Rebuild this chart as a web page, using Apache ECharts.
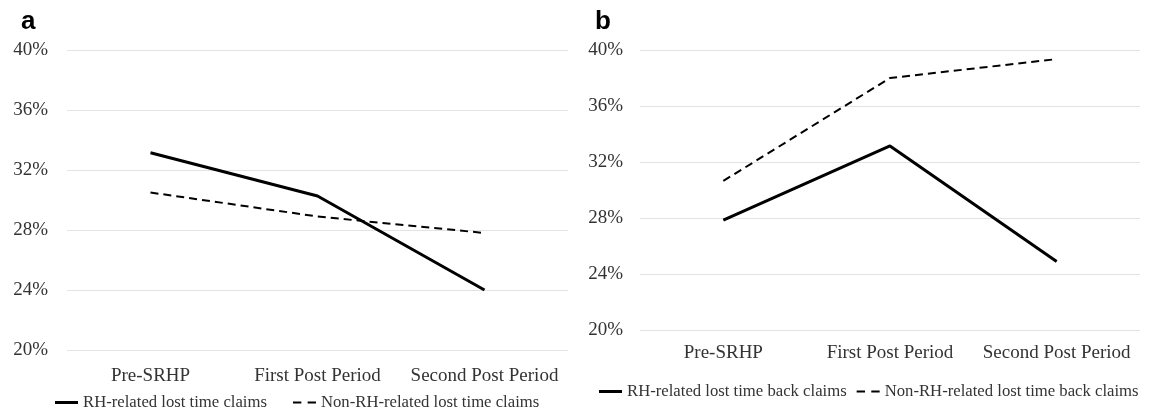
<!DOCTYPE html>
<html>
<head>
<meta charset="utf-8">
<script src="https://cdn.jsdelivr.net/npm/echarts@6/dist/echarts.min.js"></script>
<style>html,body{margin:0;padding:0;background:#fff}#c{width:1150px;height:416px}</style>
</head>
<body>
<div id="c"></div>
<script>
var categories = ['Pre-SRHP', 'First Post Period', 'Second Post Period'];
var panelA_RH = [33.15, 30.27, 24.0];
var panelA_NonRH = [30.5, 28.9, 27.8];
var panelB_RH = [27.85, 33.15, 24.9];
var panelB_NonRH = [30.65, 38.0, 39.35];
var namesA = ['RH-related lost time claims', 'Non-RH-related lost time claims'];
var namesB = ['RH-related lost time back claims', 'Non-RH-related lost time back claims'];
var yMin = 20, yMax = 40, yStep = 4;

var serif = 'Liberation Serif';
var txtColor = '#333';
var gridColor = '#e3e3e3';
var solidIcon = 'path://M0,0H23V3H0Z';
var dashIcon = 'path://M0,0H8V2H0Z M14,0H22V2H14Z';

function xAx(gi, margin) {
  return {
    type: 'category', gridIndex: gi, data: categories, boundaryGap: true,
    axisLine: {show: false}, axisTick: {show: false},
    axisLabel: {fontFamily: serif, fontSize: 19, color: txtColor, margin: margin, interval: 0}
  };
}
function yAx(gi, margin) {
  return {
    type: 'value', gridIndex: gi, min: yMin, max: yMax, interval: yStep,
    axisLine: {show: false}, axisTick: {show: false},
    axisLabel: {fontFamily: serif, fontSize: 19, color: txtColor, margin: margin, formatter: '{value}%'},
    splitLine: {lineStyle: {color: gridColor, width: 1}}
  };
}
function solid(name, data, idx) {
  return {name: name, type: 'line', xAxisIndex: idx, yAxisIndex: idx, data: data,
    symbol: 'none', lineStyle: {color: '#000', width: 3, type: 'solid'}, itemStyle: {color: '#000'}};
}
function dashed(name, data, idx) {
  return {name: name, type: 'line', xAxisIndex: idx, yAxisIndex: idx, data: data,
    symbol: 'none', lineStyle: {color: '#000', width: 2, type: [8, 5]}, itemStyle: {color: '#000'}};
}
var legendText = {fontFamily: serif, fontSize: 16.7, color: txtColor};

var chart = echarts.init(document.getElementById('c'), null, {renderer: 'canvas'});
chart.setOption({
  animation: false,
  backgroundColor: '#fff',
  title: [
    {text: 'a', left: 16, top: 4, textStyle: {fontFamily: 'Liberation Sans', fontWeight: 'bold', fontSize: 26, color: '#000'}},
    {text: 'b', left: 590, top: 4, textStyle: {fontFamily: 'Liberation Sans', fontWeight: 'bold', fontSize: 26, color: '#000'}}
  ],
  grid: [
    {left: 67, right: 582, top: 50, bottom: 66},
    {left: 640, right: 10, top: 50, bottom: 86}
  ],
  xAxis: [xAx(0, 17), xAx(1, 14)],
  yAxis: [yAx(0, 19), yAx(1, 17)],
  legend: [
    {left: 50, top: 389, width: 540, itemWidth: 23, itemHeight: 10, itemGap: 26, textStyle: legendText,
      data: [{name: namesA[0], icon: solidIcon}, {name: namesA[1], icon: dashIcon}]},
    {left: 594, top: 378, width: 560, itemWidth: 23, itemHeight: 10, itemGap: 10, textStyle: legendText,
      data: [{name: namesB[0], icon: solidIcon}, {name: namesB[1], icon: dashIcon}]}
  ],
  series: [
    solid(namesA[0], panelA_RH, 0),
    dashed(namesA[1], panelA_NonRH, 0),
    solid(namesB[0], panelB_RH, 1),
    dashed(namesB[1], panelB_NonRH, 1)
  ]
});
</script>
</body>
</html>
